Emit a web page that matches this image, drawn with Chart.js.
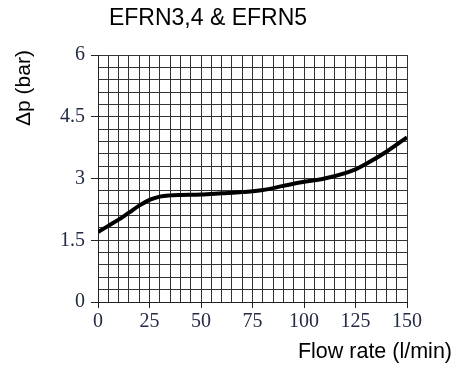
<!DOCTYPE html>
<html>
<head>
<meta charset="utf-8">
<script src="https://cdn.jsdelivr.net/npm/chart.js@4/dist/chart.umd.min.js"></script>
<style>
  body { margin: 0; background: #fff; }
</style>
</head>
<body>
<canvas id="myChart" width="454" height="366"></canvas>
<script>
var flow = [0, 5, 10, 15, 20, 25, 30, 35, 40, 50, 60, 70, 80, 90, 100, 110, 120, 125, 130, 140, 150];
var dp = [1.70, 1.85, 2.0, 2.17, 2.34, 2.48, 2.56, 2.59, 2.60, 2.61, 2.64, 2.67, 2.72, 2.82, 2.92, 3.0, 3.13, 3.22, 3.35, 3.65, 4.0];
var xLabels = [0, 25, 50, 75, 100, 125, 150];
var yLabels = [0, 1.5, 3, 4.5, 6];

var points = flow.map(function (f, i) { return { x: f, y: dp[i] }; });

function isLabel(list, v) {
  return list.some(function (l) { return Math.abs(l - v) < 1e-6; });
}

// title + axis captions drawn as canvas text
var captions = {
  id: 'captions',
  afterDraw: function (chart) {
    var ctx = chart.ctx;
    ctx.save();
    ctx.fillStyle = '#000';
    ctx.textBaseline = 'alphabetic';
    ctx.font = '23px "Liberation Sans", Arial, sans-serif';
    ctx.textAlign = 'center';
    ctx.fillText('EFRN3,4 & EFRN5', 208, 25);
    ctx.font = '21.5px "Liberation Sans", Arial, sans-serif';
    ctx.textAlign = 'right';
    ctx.fillText('Flow rate (l/min)', 452, 358);
    ctx.font = '21px "Liberation Sans", Arial, sans-serif';
    ctx.translate(30, 88);
    ctx.rotate(-Math.PI / 2);
    ctx.textAlign = 'center';
    ctx.fillText('\u0394p (bar)', 0, 0);
    ctx.restore();
  }
};

var tickFont = { family: '"Liberation Serif", "Times New Roman", serif', size: 20 };

var ctx = document.getElementById("myChart").getContext('2d');
var myChart = new Chart(ctx, {
  type: 'line',
  data: {
    datasets: [{
      data: points,
      borderColor: '#000',
      borderWidth: 4,
      pointRadius: 0,
      fill: false,
      cubicInterpolationMode: 'monotone'
    }]
  },
  options: {
    responsive: false,
    animation: false,
    layout: { padding: { left: 0, top: 55, right: 47, bottom: 0 } },
    plugins: { legend: { display: false }, tooltip: { enabled: false } },
    scales: {
      x: {
        type: 'linear',
        min: 0,
        max: 150,
        afterBuildTicks: function (scale) {
          var t = [];
          for (var v = 0; v <= 150; v += 5) t.push({ value: v });
          scale.ticks = t;
        },
        afterFit: function (scale) { scale.height = 64; },
        border: { color: '#222', width: 1 },
        grid: {
          color: '#333',
          lineWidth: 1,
          tickLength: 6,
          tickColor: function (c) { return isLabel(xLabels, c.tick.value) ? '#222' : 'rgba(0,0,0,0)'; }
        },
        ticks: {
          autoSkip: false,
          maxRotation: 0,
          padding: 2,
          color: '#222a45',
          font: tickFont,
          callback: function (v) { return isLabel(xLabels, v) ? v : ''; }
        }
      },
      y: {
        min: 0,
        max: 6,
        afterBuildTicks: function (scale) {
          var t = [];
          for (var i = 0; i <= 20; i++) t.push({ value: Math.round(i * 0.3 * 10) / 10 });
          scale.ticks = t;
        },
        afterFit: function (scale) { scale.width = 98; },
        border: { color: '#222', width: 1 },
        grid: {
          color: '#333',
          lineWidth: 1,
          tickLength: 7,
          tickColor: function (c) { return isLabel(yLabels, c.tick.value) ? '#222' : 'rgba(0,0,0,0)'; }
        },
        ticks: {
          autoSkip: false,
          padding: 6,
          color: '#222a45',
          font: tickFont,
          callback: function (v) { return isLabel(yLabels, v) ? v : ''; }
        }
      }
    }
  },
  plugins: [captions]
});
</script>
</body>
</html>
